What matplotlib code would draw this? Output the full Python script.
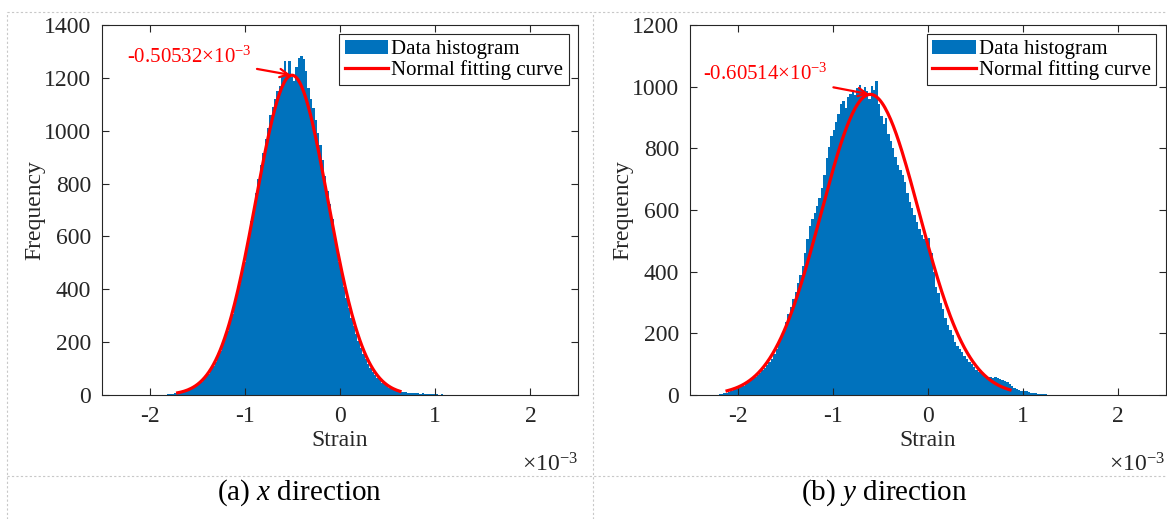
'''
    Strain histograms with normal fitting curves in x and y direction
'''

# - Imports

import matplotlib
matplotlib.use("Agg")
import matplotlib.pyplot as plt
from matplotlib.lines import Line2D
import numpy as np

# - Data (strain in units of 1e-3)

BIN_WIDTH = 0.025

# x direction histogram
x_first_edge = -1.8175
x_counts = [
    2, 3, 5, 7, 8, 10, 11, 14, 17, 20, 25, 31, 36, 42, 50, 60, 70, 80, 94, 109,
    126, 145, 166, 188, 214, 241, 272, 305, 340, 378, 420, 462, 505, 556, 604, 660, 712, 765, 818, 870,
    915, 968, 1012, 1060, 1090, 1120, 1150, 1168, 1205, 1262, 1215, 1265, 1205, 1190, 1240, 1275, 1282, 1270, 1225, 1160,
    1120, 1085, 1040, 990, 945, 890, 830, 772, 722, 665, 610, 560, 505, 455, 410, 368, 330, 292, 262, 230,
    205, 178, 156, 136, 118, 102, 88, 75, 64, 55, 47, 40, 33, 28, 24, 20, 17, 14, 12, 11,
    10, 9, 8, 7, 8, 6, 5, 6, 4, 4, 3, 3, 2, 2, 1, 2, 1, 1, 1, 0,
    1, 0, 1,
]

# y direction histogram
y_first_edge = -2.2
y_counts = [
    2, 3, 5, 7, 10, 12, 16, 19, 22, 26, 30, 36, 42, 50, 55, 60, 66, 72, 80, 88,
    96, 106, 118, 132, 148, 168, 188, 210, 236, 262, 286, 312, 335, 362, 388, 420, 462, 505, 548, 570,
    590, 612, 640, 672, 715, 770, 805, 840, 858, 885, 912, 945, 952, 930, 968, 975, 990, 972, 995, 1005,
    988, 1000, 985, 960, 1003, 990, 1020, 945, 905, 880, 900, 848, 825, 800, 772, 745, 730, 712, 690, 655,
    625, 605, 585, 560, 540, 518, 505, 498, 510, 460, 400, 350, 330, 300, 280, 250, 228, 212, 196, 172,
    158, 148, 138, 125, 116, 107, 100, 90, 82, 76, 71, 65, 60, 58, 60, 56, 58, 55, 52, 49,
    44, 42, 36, 30, 24, 19, 16, 14, 13, 12, 10, 8, 7, 5, 4, 3, 2, 2, 1, 1,
]

# Normal fitting parameters: mean, sigma, peak height, curve range
x_fit = {"mean": -0.50532, "sigma": 0.38, "peak": 1210, "range": (-1.705, 0.63)}
y_fit = {"mean": -0.60514, "sigma": 0.515, "peak": 975, "range": (-2.11, 0.865)}

x_ticks = [-2, -1, 0, 1, 2]
x_yticks = [0, 200, 400, 600, 800, 1000, 1200, 1400]
y_yticks = [0, 200, 400, 600, 800, 1000, 1200]

# - Style

plt.rcParams["font.family"] = ["Liberation Serif", "DejaVu Serif"]
plt.rcParams["mathtext.fontset"] = "custom"
plt.rcParams["mathtext.rm"] = "Liberation Serif"
plt.rcParams["mathtext.it"] = "Liberation Serif:italic"
plt.rcParams["axes.unicode_minus"] = False

BLUE = "#0072BD"
DARK = "#262626"
GRID = "#c8c8c8"

# - Functions

def draw_panel(axes, first_edge, counts, fit, yticks, ymax, note, note_xy):
    '''Draws one histogram with its fitted curve'''

    # Histogram bars
    edges = first_edge + BIN_WIDTH * np.arange(len(counts))
    bars = axes.bar(edges, counts, width=BIN_WIDTH, align="edge", color=BLUE,
                    linewidth=0)

    # Normal curve
    xs = np.linspace(fit["range"][0], fit["range"][1], 200)
    ys = fit["peak"] * np.exp(-(xs - fit["mean"]) ** 2 / (2 * fit["sigma"] ** 2))
    line, = axes.plot(xs, ys, color="red", linewidth=2.3)

    # Peak annotation
    axes.annotate(note, xy=(fit["mean"], fit["peak"]), xytext=note_xy,
                  color="red", fontsize=15, ha="right", va="center",
                  arrowprops=dict(arrowstyle="->", color="red", lw=1.6,
                                  shrinkA=2, shrinkB=1))

    # Axes
    axes.set_xlim(-2.5, 2.5)
    axes.set_ylim(0, ymax)
    axes.set_xticks(x_ticks)
    axes.set_yticks(yticks)
    axes.tick_params(direction="in", top=True, right=True, labelsize=17,
                     colors=DARK, length=5, width=0.8, pad=8)
    for spine in axes.spines.values():
        spine.set_color(DARK)
        spine.set_linewidth(0.8)

    axes.set_xlabel("Strain", fontsize=17, color=DARK)
    axes.xaxis.set_label_coords(0.5, -0.122)
    axes.xaxis.label.set_va("center")
    axes.set_ylabel("Frequency", fontsize=17, color=DARK)
    axes.yaxis.set_label_coords(-0.141, 0.5)
    axes.yaxis.label.set_va("center")

    axes.text(1.0, -0.19, "×10$^{-3}$", transform=axes.transAxes,
              ha="right", va="center", fontsize=17, color=DARK)

    legend = axes.legend([bars, line], ["Data histogram", "Normal fitting curve"],
                         loc="upper right", fontsize=15, fancybox=False,
                         edgecolor=DARK, framealpha=1, borderaxespad=0.45,
                         handlelength=2.1, handletextpad=0.15,
                         borderpad=0.25, labelspacing=0.05)
    legend.get_frame().set_linewidth(0.8)

def main():
    '''Main'''

    fig = plt.figure(figsize=(11.67, 5.19), dpi=100)

    # Panel positions in figure fractions
    left_axes = fig.add_axes([102 / 1167, 124 / 519, 476 / 1167, 370 / 519])
    right_axes = fig.add_axes([690 / 1167, 124 / 519, 475.5 / 1167, 370 / 519])

    draw_panel(left_axes, x_first_edge, x_counts, x_fit, x_yticks, 1400,
               "-0.50532×10$^{-3}$", (-0.93, 1280))
    draw_panel(right_axes, y_first_edge, y_counts, y_fit, y_yticks, 1200,
               "-0.60514×10$^{-3}$", (-1.05, 1040))

    # Table style dotted frame
    frame = dict(color=GRID, linewidth=0.8, linestyle=(0, (2, 2)))
    fig.add_artist(Line2D([7 / 1167, 1], [1 - 12 / 519, 1 - 12 / 519], **frame))
    fig.add_artist(Line2D([7 / 1167, 1], [1 - 476 / 519, 1 - 476 / 519], **frame))
    fig.add_artist(Line2D([7 / 1167, 7 / 1167], [0, 1 - 12 / 519], **frame))
    fig.add_artist(Line2D([593 / 1167, 593 / 1167], [0, 1 - 12 / 519], **frame))

    # Captions
    fig.text(299 / 1167, 1 - 493 / 519, "(a) $x$ direction", fontsize=21,
             ha="center", va="center", color="black")
    fig.text(884 / 1167, 1 - 493 / 519, "(b) $y$ direction", fontsize=21,
             ha="center", va="center", color="black")

    fig.savefig("out.png", dpi=100)


# - Main

if __name__ == "__main__":
    main()
